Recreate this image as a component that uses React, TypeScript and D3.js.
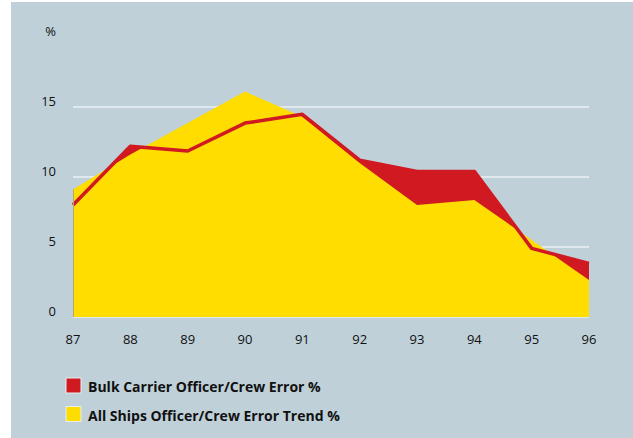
import React from "react";
import * as d3 from "d3";

const years = [87, 88, 89, 90, 91, 92, 93, 94, 95, 96];
const yTicks = [0, 5, 10, 15];
const allShips = [9.1, 11.6, 13.85, 16.1, 14.3, 11.0, 8.0, 8.36, 5.5, 2.64];
const bulkCarrier = [8.0, 12.2, 11.86, 13.85, 14.48, 11.2, 10.4, 10.4, 4.9, 3.83];
const legendLabels = ["Bulk Carrier Officer/Crew Error %", "All Ships Officer/Crew Error Trend %"];

const W = 633;
const H = 438;
const BG = "#bfd0d9";
const YELLOW = "#ffdd00";
const RED = "#d01920";
const FONT = "'Open Sans', 'DejaVu Sans', sans-serif";

export default function App() {
  const x = d3.scaleLinear().domain([87, 96]).range([73, 589]);
  const y = d3.scaleLinear().domain([0, 5]).range([317, 247]);

  const area = d3
    .area<number>()
    .x((_, i) => x(years[i]))
    .y0(y(0))
    .y1((d) => y(d));
  const line = d3
    .line<number>()
    .x((_, i) => x(years[i]))
    .y((d) => y(d));

  return (
    <svg
      width={W}
      height={H}
      style={{ position: "absolute", left: 0, top: 0, display: "block" }}
    >
      <rect x={11} y={2} width={W - 11} height={H - 2} fill={BG} />
      {yTicks.map((t) => (
        <line key={t} x1={x(87)} x2={x(96)} y1={y(t)} y2={y(t)} stroke="#fff" strokeWidth={1.2} />
      ))}
      <path d={area(bulkCarrier) || ""} fill={RED} />
      <path d={area(allShips) || ""} fill={YELLOW} />
      <path d={line(bulkCarrier) || ""} fill="none" stroke={RED} strokeWidth={3.5} strokeLinejoin="round" />
      <line x1={x(87) + 0.5} x2={x(87) + 0.5} y1={y(allShips[0])} y2={y(0)} stroke="#b8a860" strokeWidth={1} />
      {yTicks.map((t) => (
        <text key={t} x={56} y={y(t) - 1} textAnchor="end" fontFamily={FONT} fontSize={13} fill="#111">
          {t}
        </text>
      ))}
      <text x={56} y={36} textAnchor="end" fontFamily={FONT} fontSize={13} fill="#111">
        %
      </text>
      {years.map((yr) => (
        <text key={yr} x={x(yr)} y={343.5} textAnchor="middle" fontFamily={FONT} fontSize={13} fill="#111">
          {yr}
        </text>
      ))}
      {legendLabels.map((lbl, i) => (
        <g key={lbl} transform={`translate(0, ${i * 28.5})`}>
          <rect x={66} y={378} width={15} height={15} fill={i === 0 ? RED : YELLOW} stroke="#e8eef0" strokeWidth={1} />
          <text x={88} y={392} fontFamily={FONT} fontSize={14} fontWeight="bold" fill="#111">
            {lbl}
          </text>
        </g>
      ))}
    </svg>
  );
}
